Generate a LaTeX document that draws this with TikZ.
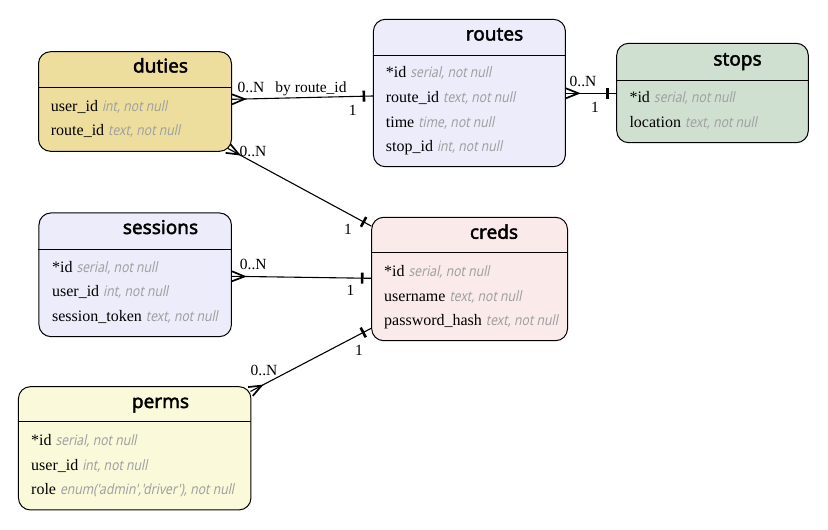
\documentclass[tikz,border=0pt]{standalone}
\usepackage{fontspec}
\setmainfont{Liberation Serif}
\newfontfamily\ttlfont[FakeBold=2.2]{Noto Sans}
\newfontfamily\typfont[FakeStretch=0.85,FakeSlant=0.2]{Noto Sans}
\usetikzlibrary{decorations.markings}
\definecolor{cduties}{HTML}{EEDE9E}
\definecolor{clav}{HTML}{ECECFA}
\definecolor{cstops}{HTML}{D0E0D0}
\definecolor{ccreds}{HTML}{FBEAEA}
\definecolor{cperms}{HTML}{FAF9DA}
\definecolor{typgray}{HTML}{A0A0A0}
\newcommand\fldtype[1]{{\typfont\fontsize{14.3}{17}\selectfont\color{typgray}#1}}
\tikzset{
  tbl/.style={draw=black, line width=1pt, rounded corners=12pt, inner sep=0pt},
  hdr/.style={line width=1pt},
  ttl/.style={font=\ttlfont\fontsize{19}{22}\selectfont, anchor=base, inner sep=0pt},
  fld/.style={font=\fontsize{16}{18}\selectfont, anchor=base west, inner sep=0pt},
  lbl/.style={font=\fontsize{15.5}{18}\selectfont, inner sep=0pt},
  rel/.style={line width=1.1pt, postaction={decorate}, decoration={markings,
     mark=at position 0pt with {\draw[line width=1.7pt, line join=miter] (0,5pt) -- (12.5pt,0) -- (0,-5pt);},
     mark=at position -9pt with {\draw[line width=2.6pt] (0,-5.5pt) -- (0,5.5pt);}}}
}
\begin{document}
\begin{tikzpicture}[x=1pt,y=-1pt]
\useasboundingbox (0,0) rectangle (828,530);
% tables
\node[tbl, fill=cduties, minimum width=193pt, minimum height=99.6pt] (duties) at (135,101.5) {};
\node[tbl, fill=clav, minimum width=192pt, minimum height=147.4pt] (routes) at (469.4,93) {};
\node[tbl, fill=cstops, minimum width=191.6pt, minimum height=99.4pt] (stops) at (712.5,93) {};
\node[tbl, fill=clav, minimum width=192.5pt, minimum height=123.7pt] (sessions) at (135.2,274.8) {};
\node[tbl, fill=ccreds, minimum width=195.8pt, minimum height=123.4pt] (creds) at (469.6,279) {};
\node[tbl, fill=cperms, minimum width=232.5pt, minimum height=123.3pt] (perms) at (134.7,448.3) {};
% header lines
\draw[hdr] (duties.west |- 0,87.3) -- (duties.east |- 0,87.3);
\draw[hdr] (routes.west |- 0,55) -- (routes.east |- 0,55);
\draw[hdr] (stops.west |- 0,80) -- (stops.east |- 0,80);
\draw[hdr] (sessions.west |- 0,249) -- (sessions.east |- 0,249);
\draw[hdr] (creds.west |- 0,252.7) -- (creds.east |- 0,252.7);
\draw[hdr] (perms.west |- 0,421.7) -- (perms.east |- 0,421.7);
% titles
\node[ttl] (tduties) at (160.5,72.5) {duties};
\node[ttl] (troutes) at (494.5,40.5) {routes};
\node[ttl] (tstops) at (737.5,65.5) {stops};
\node[ttl] (tsessions) at (160.5,234) {sessions};
\node[ttl] (tcreds) at (494,238.8) {creds};
\node[ttl] (tperms) at (160.5,408) {perms};
% fields
\node[fld] (d1) at (50.7,111.2) {user\_id \fldtype{int, not null}};
\node[fld] (d2) at (50.7,135.2) {route\_id \fldtype{text, not null}};
\node[fld] (r1) at (385.7,77.8) {*id \fldtype{serial, not null}};
\node[fld] (r2) at (385.7,102.8) {route\_id \fldtype{text, not null}};
\node[fld] (r3) at (385.7,127.2) {time \fldtype{time, not null}};
\node[fld] (r4) at (385.7,151.2) {stop\_id \fldtype{int, not null}};
\node[fld] (s1) at (629.3,102.8) {*id \fldtype{serial, not null}};
\node[fld] (s2) at (629.3,127.8) {location \fldtype{text, not null}};
\node[fld] (e1) at (51.9,272.8) {*id \fldtype{serial, not null}};
\node[fld] (e2) at (51.9,296.8) {user\_id \fldtype{int, not null}};
\node[fld] (e3) at (51.9,321.2) {session\_token \fldtype{text, not null}};
\node[fld] (c1) at (384,276.2) {*id \fldtype{serial, not null}};
\node[fld] (c2) at (384,301.2) {username \fldtype{text, not null}};
\node[fld] (c3) at (384,325.2) {password\_hash \fldtype{text, not null}};
\node[fld] (p1) at (31,445.2) {*id \fldtype{serial, not null}};
\node[fld] (p2) at (31,470.2) {user\_id \fldtype{int, not null}};
\node[fld] (p3) at (31,494.5) {role \fldtype{enum('admin','driver'), not null}};
% relations
\draw[rel] (duties.east |- 0,99.3) -- (routes.west |- 0,96);
\draw[rel] (routes.east |- 0,93.3) -- (stops.west |- 0,93.3);
\draw[rel] ([xshift=-4pt,yshift=3.3pt]duties.south east) -- ([xshift=0.3pt,yshift=-9.4pt]creds.north west);
\draw[rel] (sessions.east |- 0,276.3) -- (creds.west |- 0,278.3);
\draw[rel] ([xshift=-1pt,yshift=-5.3pt]perms.north east) -- (creds.west |- 0,328.3);
% labels
\node[lbl] (l1a) at (251,87.3) {0..N};
\node[lbl] (l1b) at (311,88.3) {by route\_id};
\node[lbl] (l1c) at (352.7,110) {1};
\node[lbl] (l2a) at (583,81.7) {0..N};
\node[lbl] (l2c) at (595,107) {1};
\node[lbl] (l3a) at (253,151) {0..N};
\node[lbl] (l3c) at (348,229.3) {1};
\node[lbl] (l4a) at (253.3,264) {0..N};
\node[lbl] (l4c) at (350.6,290.7) {1};
\node[lbl] (l5a) at (264,370) {0..N};
\node[lbl] (l5c) at (359,350) {1};
\end{tikzpicture}
\end{document}
